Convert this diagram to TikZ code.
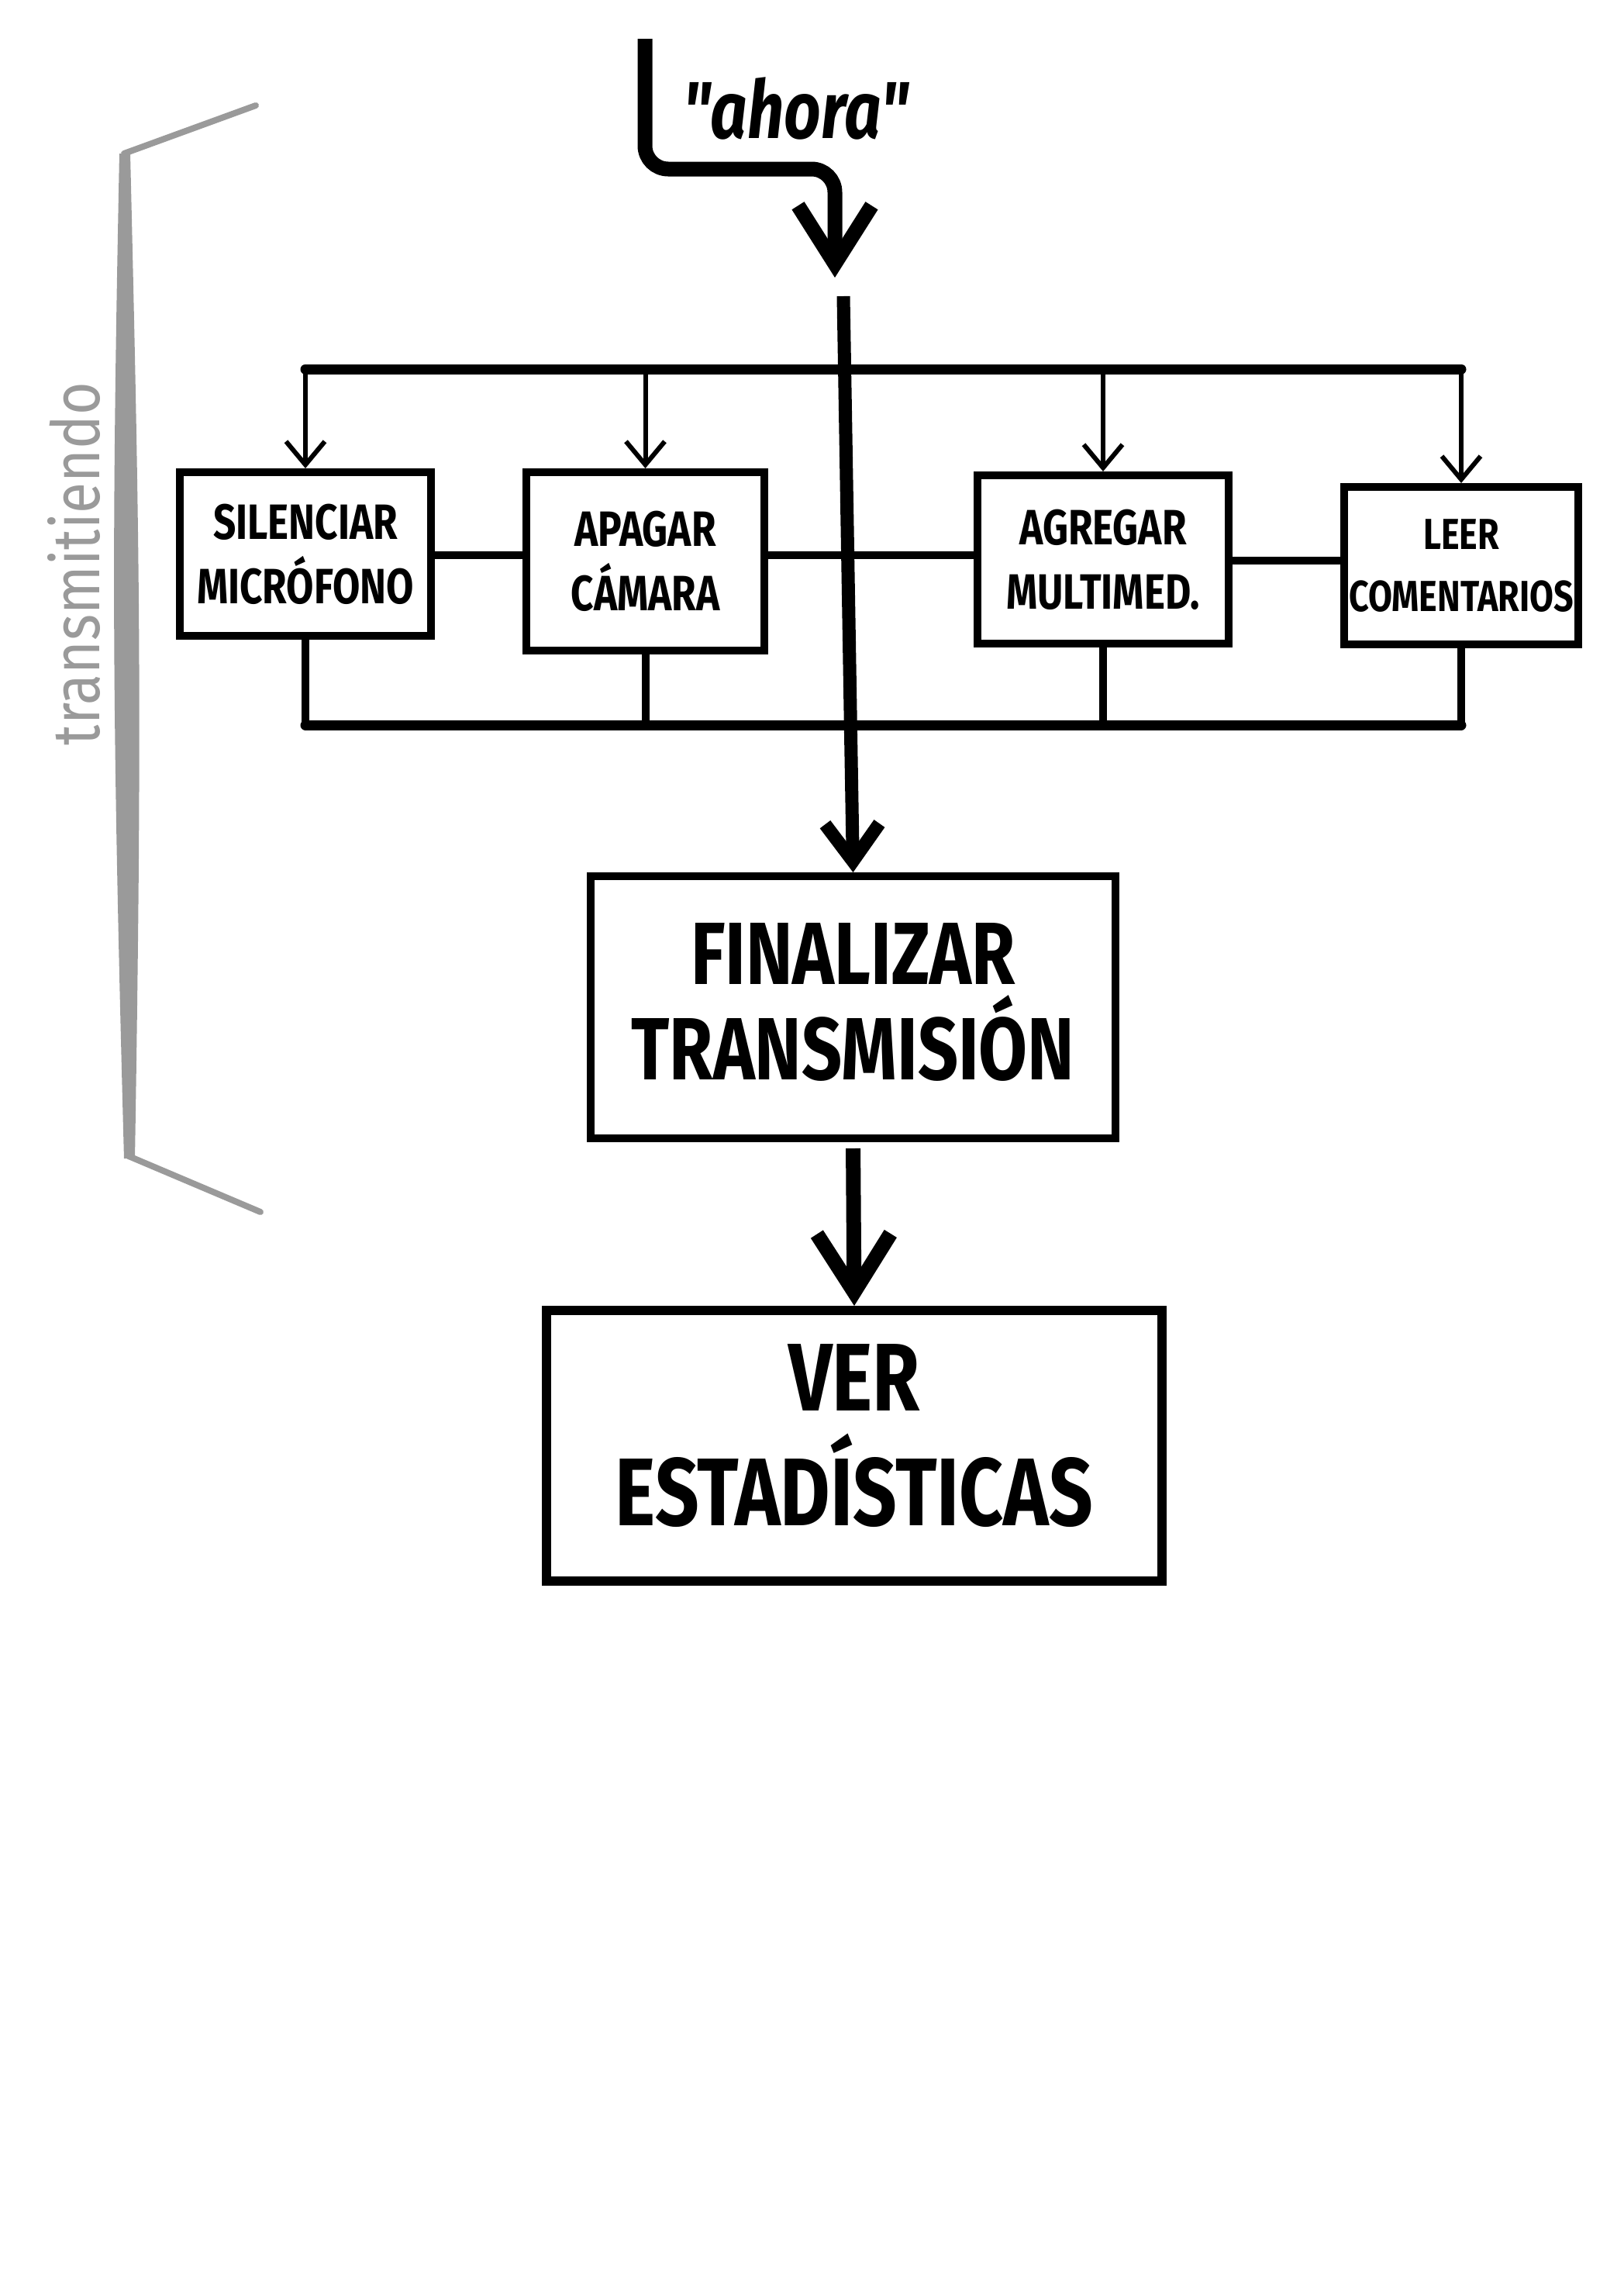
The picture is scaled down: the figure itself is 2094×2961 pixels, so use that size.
\documentclass[tikz,border=0pt]{standalone}
\usepackage{fontspec}
\newfontfamily\brush[FakeStretch=0.8]{Fira Sans}
\newfontfamily\hand[FakeStretch=0.85]{Fira Sans}
\usetikzlibrary{arrows.meta}
\definecolor{gr}{HTML}{9A9A9A}
\tikzset{
  smallbox/.style={draw=black, line width=10pt, fill=white, align=center, inner sep=0pt,
    font=\brush\bfseries\fontsize{64}{83}\selectfont},
  bigbox/.style={draw=black, line width=10pt, fill=white, align=center, inner sep=0pt},
  bar/.style={line width=13pt, line cap=round},
  link/.style={line width=10pt},
  drop/.style={line width=6pt, -{Straight Barb[length=30pt,width=50pt]}},
  trunkline/.style={line width=17pt, -{Straight Barb[length=48pt,width=70pt]}},
  heavyarrow/.style={line width=19pt, -{Straight Barb[length=75pt,width=95pt]}},
  grstroke/.style={draw=gr, line width=8pt, line cap=round, line join=round},
}
\begin{document}
\begin{tikzpicture}[x=1pt,y=-1pt]
\fill[white] (0,0) rectangle (2094,2961);
\useasboundingbox (0,0) rectangle (2094,2961);

% grey bracket and label
\draw[grstroke] (330,136) -- (160,198);
\draw[grstroke] (166,1491) -- (336,1563);
\fill[gr] (154,198) .. controls (144,700) and (144,900) .. (160,1494) -- (174,1494) .. controls (184,900) and (180,700) .. (168,198) -- cycle;
\node[rotate=90, text=gr, font=\hand\fontsize{86}{90}\selectfont] (lbl) at (95,727) {transmitiendo};

% "ahora" arrow
\coordinate (aStart) at (832,50);
\coordinate (aEnd) at (1077,358);
\draw[heavyarrow, rounded corners=30pt] (aStart) -- (832,218) -- (1077,218) -- (aEnd);
\node[font=\brush\bfseries\itshape\fontsize{104}{110}\selectfont] (ahora) at (1027,140) {"ahora"};

% boxes
\node[smallbox, minimum width=324pt, minimum height=211pt] (b1) at (394,714.5) {SILENCIAR\\MICRÓFONO};
\node[smallbox, minimum width=307pt, minimum height=230pt] (b2) at (832.5,724) {APAGAR\\CÁMARA};
\node[smallbox, minimum width=324pt, minimum height=217pt] (b3) at (1423,721.5) {AGREGAR\\MULTIMED.};
\node[smallbox, minimum width=302pt, minimum height=203pt, font=\brush\bfseries\fontsize{56}{80}\selectfont] (b4) at (1885,729.5) {LEER\\COMENTARIOS};
\node[bigbox, minimum width=677pt, minimum height=338pt, font=\brush\bfseries\fontsize{114}{123}\selectfont, text depth=16pt] (fin) at (1100.5,1299) {FINALIZAR\\TRANSMISIÓN};
\node[bigbox, line width=12pt, minimum width=794pt, minimum height=349pt, font=\brush\bfseries\fontsize{124}{148}\selectfont, text depth=28pt] (ver) at (1102,1864.5) {VER\\ESTADÍSTICAS};

% trunk
\coordinate (trunkTop) at (1088,382);
\draw[trunkline] (trunkTop) -- (fin.north);

% top bar with drops
\coordinate (topY) at (0,476);
\draw[bar] (b1.north |- topY) -- (b4.north |- topY);
\draw[drop] (b1.north |- topY) -- (b1.north);
\draw[drop] (b2.north |- topY) -- (b2.north);
\draw[drop] (b3.north |- topY) -- (b3.north);
\draw[drop] (b4.north |- topY) -- (b4.north);

% middle links
\coordinate (mY) at (0,716);
\coordinate (mY2) at (0,723);
\draw[link] (b1.east |- mY) -- (b2.west |- mY);
\draw[link] (b2.east |- mY) -- (b3.west |- mY);
\draw[link] (b3.east |- mY2) -- (b4.west |- mY2);

% bottom bar
\coordinate (botY) at (0,935);
\draw[link] (b1.south) -- (b1.south |- botY);
\draw[link] (b2.south) -- (b2.south |- botY);
\draw[link] (b3.south) -- (b3.south |- botY);
\draw[link] (b4.south) -- (b4.south |- botY);
\draw[bar] (b1.south |- botY) -- (b4.south |- botY);

% final arrow
\draw[heavyarrow, shorten <=8pt] (fin.south) -- (ver.north);
\end{tikzpicture}
\end{document}
